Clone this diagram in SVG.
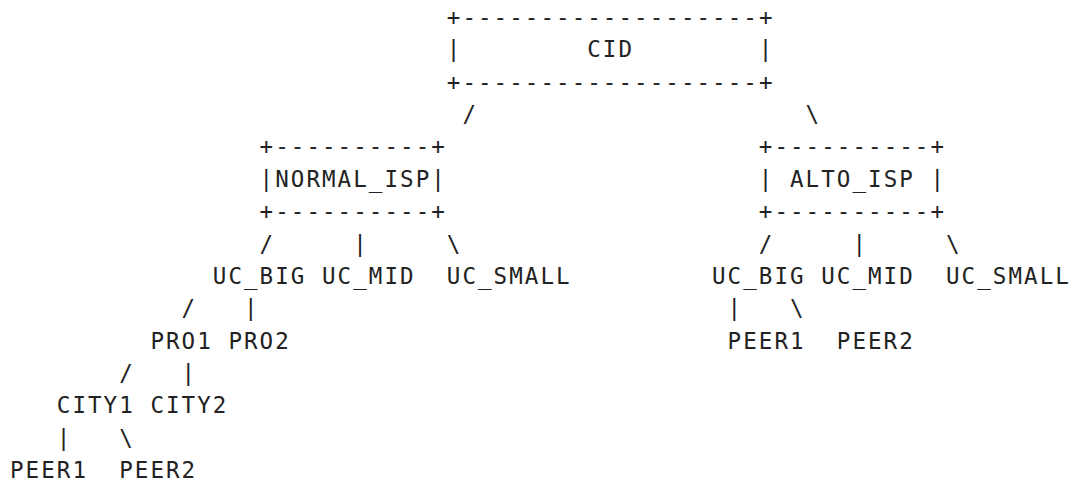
<svg xmlns="http://www.w3.org/2000/svg" width="1074" height="485" viewBox="0 0 1074 485">
<style>
text { font-family: "DejaVu Sans Mono", "Liberation Mono", monospace; font-size: 22.5px; letter-spacing: 2.06px; fill: #222222; }
</style>
<rect x="0" y="0" width="1074" height="485" fill="#ffffff"/>
<g id="node-cid">
<text x="446.8" y="25">+-------------------+</text>
<text x="446.8" y="57.4">|</text>
<text x="587.2" y="57.4">CID</text>
<text x="758.8" y="57.4">|</text>
<text x="446.8" y="89.7">+-------------------+</text>
</g>
<g id="node-normal-isp">
<text x="259.6" y="154.4">+----------+</text>
<text x="259.6" y="186.8">|NORMAL_ISP|</text>
<text x="259.6" y="219.2">+----------+</text>
</g>
<g id="node-alto-isp">
<text x="758.8" y="154.4">+----------+</text>
<text x="758.8" y="186.8">|</text>
<text x="790" y="186.8">ALTO_ISP</text>
<text x="930.4" y="186.8">|</text>
<text x="758.8" y="219.2">+----------+</text>
</g>
<g id="node-n-uc-big"><text x="212.8" y="283.9">UC_BIG</text></g>
<g id="node-n-uc-mid"><text x="322" y="283.9">UC_MID</text></g>
<g id="node-n-uc-small"><text x="446.8" y="283.9">UC_SMALL</text></g>
<g id="node-a-uc-big"><text x="712" y="283.9">UC_BIG</text></g>
<g id="node-a-uc-mid"><text x="821.2" y="283.9">UC_MID</text></g>
<g id="node-a-uc-small"><text x="946" y="283.9">UC_SMALL</text></g>
<g id="node-pro1"><text x="150.4" y="348.6">PRO1</text></g>
<g id="node-pro2"><text x="228.4" y="348.6">PRO2</text></g>
<g id="node-a-peer1"><text x="727.6" y="348.6">PEER1</text></g>
<g id="node-a-peer2"><text x="836.8" y="348.6">PEER2</text></g>
<g id="node-city1"><text x="56.8" y="413.3">CITY1</text></g>
<g id="node-city2"><text x="150.4" y="413.3">CITY2</text></g>
<g id="node-n-peer1"><text x="10" y="478">PEER1</text></g>
<g id="node-n-peer2"><text x="119.2" y="478">PEER2</text></g>
<g id="connectors">
<text x="462.4" y="122.1">/</text>
<text x="805.6" y="122.1">\</text>
<text x="259.6" y="251.5">/</text>
<text x="353.2" y="251.5">|</text>
<text x="446.8" y="251.5">\</text>
<text x="758.8" y="251.5">/</text>
<text x="852.4" y="251.5">|</text>
<text x="946" y="251.5">\</text>
<text x="181.6" y="316.2">/</text>
<text x="244" y="316.2">|</text>
<text x="727.6" y="316.2">|</text>
<text x="790" y="316.2">\</text>
<text x="119.2" y="381">/</text>
<text x="181.6" y="381">|</text>
<text x="56.8" y="445.7">|</text>
<text x="119.2" y="445.7">\</text>
</g>
</svg>
